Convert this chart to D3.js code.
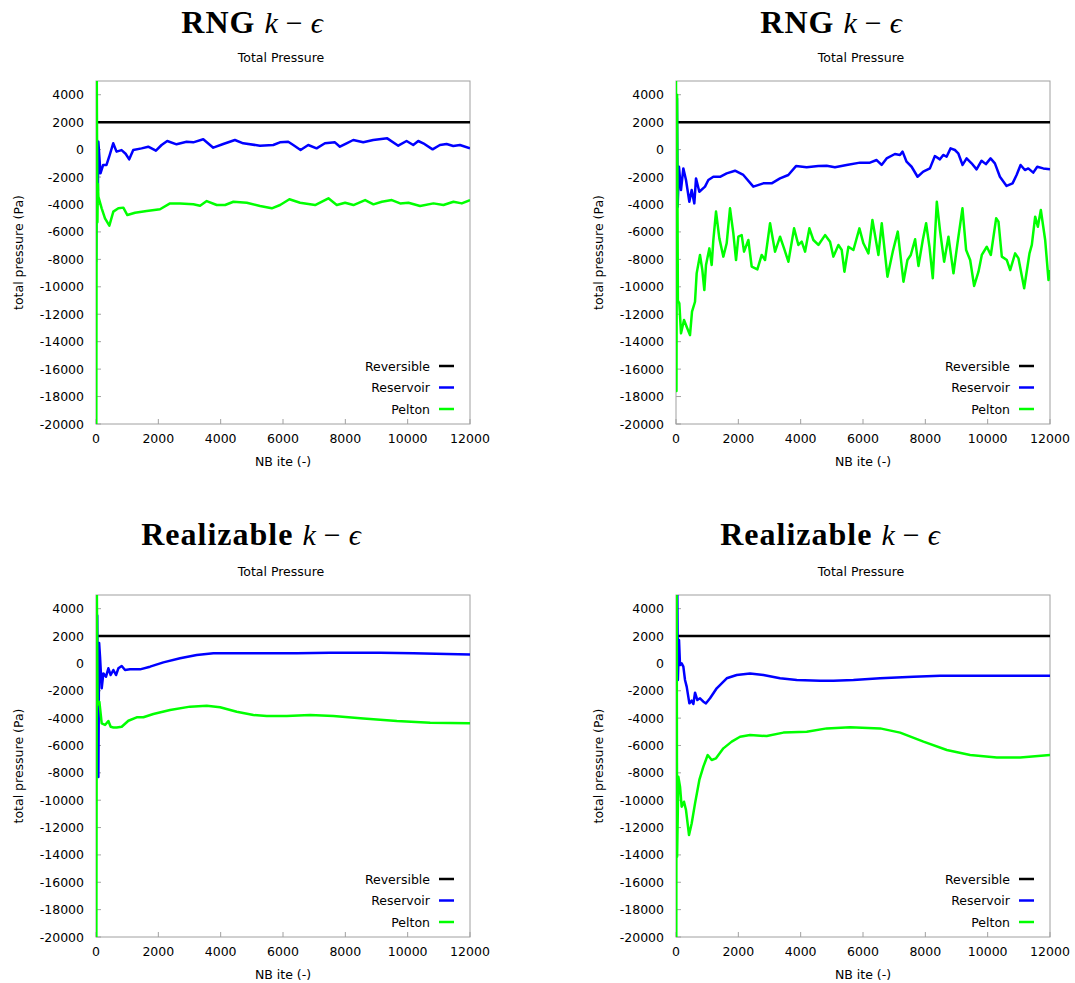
<!DOCTYPE html>
<html>
<head>
<meta charset="utf-8">
<script src="https://cdn.jsdelivr.net/npm/d3@7"></script>
<style>
  body { margin: 0; background: #fff; }
  text { font-family: "DejaVu Sans", sans-serif; fill: #000; }
</style>
</head>
<body>
<svg id="fig" width="1075" height="983"></svg>
<script>
// axis ticks
const xTicks = [0, 2000, 4000, 6000, 8000, 10000, 12000];
const yTicks = [-20000, -18000, -16000, -14000, -12000, -10000, -8000, -6000, -4000, -2000, 0, 2000, 4000];
const seriesNames = ["Reversible", "Reservoir", "Pelton"];

// Reversible reference level (same in all panels)
const reversible = [[0, 2000], [12000, 2000]];

// RNG k-eps, left
const rngLeftReservoir = [[0,-8200],[30,700],[60,-3000],[75,576],[144,-1730],[230,-1120],[337,-1120],[423,-520],[552,458],[659,-150],[820,-35],[950,-300],[1066,-710],[1195,-30],[1462,90],[1676,210],[1922,-80],[2104,335],[2286,627],[2585,385],[2906,576],[3120,530],[3441,750],[3762,140],[4083,410],[4457,700],[4724,460],[5259,285],[5687,335],[5901,530],[6168,576],[6329,335],[6564,-30],[6810,335],[7078,90],[7345,460],[7666,530],[7826,210],[8040,460],[8254,700],[8575,530],[8896,700],[9345,820],[9698,285],[9965,627],[10179,335],[10340,627],[10500,460],[10800,20],[11035,335],[11249,410],[11463,260],[11677,335],[12000,90]];
const rngLeftPelton = [[0,5000],[10,-20000],[25,5000],[45,-5300],[60,-2500],[75,-3430],[182,-4280],[289,-5010],[428,-5540],[556,-4520],[717,-4280],[877,-4230],[1006,-4770],[1252,-4600],[1626,-4480],[2054,-4350],[2375,-3920],[2696,-3920],[3124,-3990],[3339,-4090],[3553,-3750],[3874,-4040],[4142,-4040],[4409,-3800],[4837,-3870],[5265,-4110],[5640,-4280],[5907,-4040],[6206,-3620],[6548,-3870],[7030,-4040],[7457,-3550],[7725,-4040],[7993,-3870],[8260,-4040],[8635,-3680],[8902,-3990],[9170,-3800],[9491,-3680],[9758,-3920],[10025,-3870],[10399,-4110],[10827,-3920],[11148,-4040],[11469,-3800],[11736,-3920],[12000,-3680]];

// RNG k-eps, right
const rngRightReservoir = [[0,-4160],[30,3740],[53,-4160],[96,-1250],[160,-2950],[235,-1370],[321,-2220],[428,-3800],[503,-2950],[588,-3920],[642,-2100],[749,-3070],[931,-2700],[1038,-2220],[1198,-1980],[1412,-1980],[1626,-1730],[1893,-1540],[2161,-1850],[2481,-2700],[2802,-2460],[3069,-2460],[3337,-2100],[3604,-1850],[3850,-1200],[4192,-1290],[4566,-1200],[4833,-1180],[5100,-1290],[5474,-1120],[5902,-950],[6223,-950],[6437,-760],[6597,-1120],[6757,-640],[7024,-320],[7185,-390],[7270,-150],[7398,-880],[7559,-1250],[7751,-1980],[7933,-1610],[8147,-1370],[8307,-470],[8468,-710],[8575,-390],[8682,-520],[8810,90],[8949,-30],[9056,-270],[9195,-1120],[9324,-640],[9484,-1000],[9644,-1440],[9804,-810],[9943,-1060],[10093,-640],[10232,-1000],[10393,-1980],[10607,-2650],[10799,-2460],[10928,-1850],[11056,-1120],[11195,-1490],[11302,-1370],[11463,-1680],[11591,-1250],[11784,-1370],[12000,-1440]];
const rngRightPelton = [[0,5000],[15,-17600],[35,4000],[60,-11000],[107,-11210],[161,-13390],[257,-12420],[342,-12910],[449,-13520],[514,-11810],[610,-11090],[663,-9020],[770,-7680],[845,-8780],[909,-10240],[963,-8410],[1070,-7200],[1145,-8410],[1198,-6590],[1284,-4520],[1391,-6470],[1519,-7800],[1626,-6830],[1733,-4280],[1840,-6100],[1926,-8050],[2001,-6350],[2108,-6230],[2183,-7440],[2322,-6590],[2429,-8530],[2611,-8730],[2750,-7680],[2857,-8050],[3018,-5370],[3178,-7440],[3339,-6350],[3467,-7200],[3606,-8170],[3788,-5740],[3927,-6950],[4034,-6710],[4141,-7440],[4280,-5740],[4408,-6590],[4569,-6950],[4783,-6230],[4943,-6710],[5050,-7800],[5211,-6950],[5318,-7320],[5404,-8900],[5532,-7080],[5692,-7320],[5885,-5740],[6013,-6830],[6174,-7560],[6302,-5130],[6495,-7680],[6602,-5370],[6784,-9260],[6955,-7440],[7116,-5980],[7298,-9630],[7426,-8050],[7533,-7680],[7672,-6540],[7779,-8480],[7918,-6590],[8025,-5370],[8132,-7080],[8239,-9380],[8368,-3800],[8475,-5980],[8603,-8170],[8742,-6350],[8903,-9020],[9031,-6830],[9191,-4280],[9309,-7320],[9438,-8050],[9566,-9940],[9705,-8900],[9812,-7680],[9972,-7080],[10101,-7680],[10272,-5010],[10347,-5250],[10454,-7800],[10615,-8050],[10722,-8780],[10882,-7560],[10989,-7930],[11171,-10110],[11342,-7560],[11417,-6950],[11524,-4890],[11610,-5620],[11706,-4400],[11845,-6590],[11952,-9510],[12000,-8780]];

// Realizable k-eps, left
const realLeftReservoir = [[0,-8300],[40,3500],[75,-8300],[100,1500],[129,490],[183,-1820],[236,-730],[322,-970],[397,-360],[471,-850],[557,-480],[643,-850],[718,-360],[825,-190],[932,-480],[1092,-435],[1413,-435],[1734,-240],[2162,76],[2697,370],[3232,610],[3767,735],[4302,735],[5372,735],[6442,735],[7512,780],[9117,780],[10187,735],[11257,686],[12000,650]];
const realLeftPelton = [[0,5000],[12,-20000],[28,5000],[50,-3000],[76,-2920],[108,-2800],[183,-4380],[290,-4500],[397,-4210],[471,-4630],[557,-4680],[664,-4680],[825,-4630],[1039,-4190],[1306,-3940],[1520,-3940],[1841,-3700],[2376,-3410],[3018,-3160],[3553,-3090],[3981,-3210],[4516,-3530],[5051,-3770],[5479,-3850],[6121,-3850],[6870,-3770],[7619,-3850],[8582,-4020],[9652,-4210],[10722,-4340],[12000,-4380]];

// Realizable k-eps, right
const realRightReservoir = [[0,-1210],[43,5000],[60,-1210],[97,1710],[129,-120],[182,0],[236,-240],[289,-1210],[343,-1700],[429,-2920],[504,-2720],[557,-2970],[611,-2140],[685,-2680],[771,-2550],[878,-2800],[963,-2920],[1092,-2550],[1306,-1820],[1627,-1090],[1948,-850],[2376,-730],[2804,-850],[3339,-1090],[3874,-1210],[4623,-1260],[5051,-1260],[5693,-1210],[6549,-1090],[7619,-970],[8475,-900],[12000,-900]];
const realRightPelton = [[0,5000],[10,-20000],[22,5000],[35,-14130],[75,-8280],[129,-9010],[182,-10480],[257,-10110],[321,-10720],[418,-12550],[504,-11690],[611,-10230],[749,-8520],[878,-7550],[1017,-6700],[1145,-7060],[1284,-6940],[1520,-6210],[1788,-5720],[2055,-5360],[2376,-5240],[2911,-5310],[3446,-5060],[4195,-4990],[4837,-4750],[5586,-4670],[6549,-4750],[7191,-5060],[7940,-5720],[8689,-6330],[9438,-6700],[10294,-6870],[11043,-6870],[12000,-6700]];

const colors = {
  reversible: "#000000",
  reservoir: "#0000ff",
  pelton: "#00ff00",
  frame: "#a0a0a0"
};

const svg = d3.select("#fig");

function drawPanel(p, idx) {
  const w = 374, h = p.h;
  const g = svg.append("g").attr("transform", `translate(${p.left},${p.top})`);

  const x = d3.scaleLinear().domain([0, 12000]).range([0, w]);
  const y = d3.scaleLinear().domain([-20000, 5000]).range([h, 0]);

  // figure title (LaTeX style)
  const t = svg.append("text")
    .attr("x", p.titleX).attr("y", p.titleY)
    .attr("text-anchor", "middle")
    .style("font-family", "'Liberation Serif', serif")
    .style("font-size", "30px");
  t.append("tspan").style("font-weight", "bold").style("font-size", "32px")
    .style("letter-spacing", "1px").text(p.model);
  t.append("tspan").attr("dx", 9).style("font-style", "italic").text("k");
  t.append("tspan").attr("dx", 8).text("\u2212");
  t.append("tspan").attr("dx", 8).style("font-style", "italic").text("\u03f5");

  // plot title
  g.append("text").attr("x", w / 2 - 2).attr("y", -19)
    .attr("text-anchor", "middle").style("font-size", "12.5px")
    .text("Total Pressure");

  // frame
  g.append("rect").attr("width", w).attr("height", h)
    .attr("fill", "none").attr("stroke", colors.frame).attr("stroke-width", 1);

  // ticks
  g.selectAll(".xt").data(xTicks).enter().append("line")
    .attr("x1", d => x(d)).attr("x2", d => x(d))
    .attr("y1", h).attr("y2", h - 5)
    .attr("stroke", colors.frame);
  g.selectAll(".yt").data(yTicks).enter().append("line")
    .attr("x1", 0).attr("x2", 5)
    .attr("y1", d => y(d)).attr("y2", d => y(d))
    .attr("stroke", colors.frame);

  g.selectAll(".xl").data(xTicks).enter().append("text")
    .attr("x", d => x(d)).attr("y", h + 19)
    .attr("text-anchor", "middle").style("font-size", "12.5px")
    .text(d => d);
  g.selectAll(".yl").data(yTicks).enter().append("text")
    .attr("x", -12).attr("y", d => y(d)).attr("dy", "0.36em")
    .attr("text-anchor", "end").style("font-size", "12.5px")
    .text(d => d);

  // axis labels
  g.append("text").attr("x", w / 2).attr("y", h + 42)
    .attr("text-anchor", "middle").style("font-size", "12.5px")
    .text("NB ite (-)");
  g.append("text")
    .attr("transform", `translate(-73,${h / 2}) rotate(-90)`)
    .attr("text-anchor", "middle").style("font-size", "12.5px")
    .text("total pressure (Pa)");

  // clip
  const clipId = "clip" + idx;
  g.append("clipPath").attr("id", clipId)
    .append("rect").attr("width", w).attr("height", h);

  const line = d3.line().x(d => x(d[0])).y(d => y(d[1]));
  const series = [
    { data: reversible, color: colors.reversible },
    { data: p.reservoir, color: colors.reservoir },
    { data: p.pelton, color: colors.pelton }
  ];
  g.append("g").attr("clip-path", `url(#${clipId})`)
    .selectAll("path").data(series).enter().append("path")
    .attr("d", d => line(d.data))
    .attr("fill", "none")
    .attr("stroke", d => d.color)
    .attr("stroke-width", 2.5)
    .attr("stroke-linejoin", "round");

  // legend
  const leg = g.append("g");
  seriesNames.forEach((name, i) => {
    const ly = h - 58 + i * 21.5;
    leg.append("text").attr("x", w - 40).attr("y", ly).attr("dy", "0.36em")
      .attr("text-anchor", "end").style("font-size", "12.5px").text(name);
    leg.append("line").attr("x1", w - 31).attr("x2", w - 16)
      .attr("y1", ly).attr("y2", ly)
      .attr("stroke", series[i].color).attr("stroke-width", 2.5);
  });
}

const panels = [
  { model: "RNG", left: 96, top: 81, h: 343, titleX: 252, titleY: 33, reservoir: rngLeftReservoir, pelton: rngLeftPelton },
  { model: "RNG", left: 676, top: 81, h: 343, titleX: 831, titleY: 33, reservoir: rngRightReservoir, pelton: rngRightPelton },
  { model: "Realizable", left: 96, top: 595, h: 342, titleX: 251, titleY: 545, reservoir: realLeftReservoir, pelton: realLeftPelton },
  { model: "Realizable", left: 676, top: 595, h: 342, titleX: 830, titleY: 545, reservoir: realRightReservoir, pelton: realRightPelton }
];

panels.forEach(drawPanel);
</script>
</body>
</html>
